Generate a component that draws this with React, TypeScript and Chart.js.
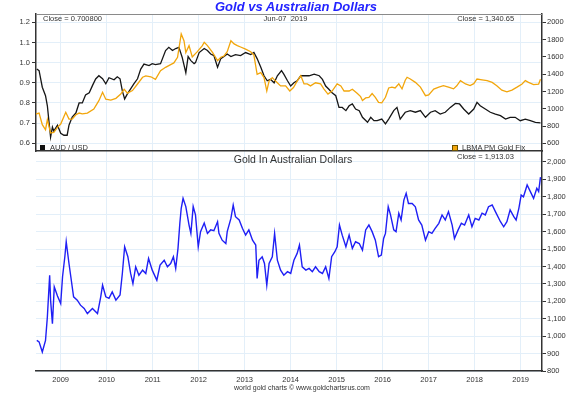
import React, { useEffect, useRef } from "react";
import { Chart, registerables } from "chart.js";

Chart.register(...registerables);

const FONT = "'Liberation Sans', Arial, Helvetica, sans-serif";
Chart.defaults.font.family = FONT;

// ---- tick labels ----
const years = [2009, 2010, 2011, 2012, 2013, 2014, 2015, 2016, 2017, 2018, 2019];
const audTicks = [0.6, 0.7, 0.8, 0.9, 1.0, 1.1, 1.2];
const goldUsdTicks = [600, 800, 1000, 1200, 1400, 1600, 1800, 2000];
const goldAudTicks = [800, 900, 1000, 1100, 1200, 1300, 1400, 1500, 1600, 1700, 1800, 1900, 2000];

// ---- series (decimal year, value) ----
const audUsd: [number, number][] = [
  [2008.48, 0.968], [2008.53, 0.96], [2008.6, 0.878], [2008.67, 0.836], [2008.71, 0.786], [2008.75, 0.696],
  [2008.78, 0.63], [2008.82, 0.68], [2008.85, 0.66], [2008.93, 0.69], [2009.0, 0.65], [2009.07, 0.64],
  [2009.14, 0.64], [2009.18, 0.69], [2009.25, 0.73], [2009.33, 0.75], [2009.4, 0.8], [2009.47, 0.8],
  [2009.54, 0.84], [2009.62, 0.85], [2009.69, 0.886], [2009.76, 0.919], [2009.83, 0.935], [2009.91, 0.92],
  [2009.98, 0.895], [2010.05, 0.925], [2010.16, 0.915], [2010.23, 0.93], [2010.29, 0.92], [2010.34, 0.86],
  [2010.39, 0.82], [2010.45, 0.845], [2010.52, 0.87], [2010.59, 0.895], [2010.67, 0.92], [2010.74, 0.968],
  [2010.81, 0.993], [2010.92, 0.985], [2010.99, 0.995], [2011.06, 0.99], [2011.17, 0.995], [2011.28, 1.06],
  [2011.35, 1.076], [2011.43, 1.06], [2011.5, 1.07], [2011.57, 1.076], [2011.64, 1.027], [2011.72, 0.95],
  [2011.77, 1.03], [2011.83, 1.01], [2011.9, 0.995], [2011.93, 1.0], [2012.01, 1.05], [2012.12, 1.07],
  [2012.19, 1.06], [2012.26, 1.043], [2012.33, 1.035], [2012.41, 0.977], [2012.48, 1.02], [2012.55, 1.03],
  [2012.62, 1.043], [2012.7, 1.03], [2012.8, 1.04], [2012.91, 1.035], [2013.02, 1.05], [2013.13, 1.04],
  [2013.2, 1.051], [2013.27, 1.02], [2013.35, 0.977], [2013.42, 0.935], [2013.49, 0.91], [2013.56, 0.917],
  [2013.64, 0.9], [2013.71, 0.935], [2013.8, 0.96], [2013.85, 0.943], [2013.93, 0.91], [2014.0, 0.884],
  [2014.07, 0.9], [2014.14, 0.91], [2014.22, 0.935], [2014.29, 0.935], [2014.4, 0.935], [2014.51, 0.943],
  [2014.62, 0.935], [2014.69, 0.917], [2014.76, 0.884], [2014.83, 0.868], [2014.9, 0.85], [2014.98, 0.836],
  [2015.05, 0.778], [2015.12, 0.778], [2015.2, 0.762], [2015.27, 0.786], [2015.34, 0.795], [2015.41, 0.77],
  [2015.49, 0.762], [2015.56, 0.729], [2015.67, 0.704], [2015.74, 0.729], [2015.81, 0.712], [2015.88, 0.712],
  [2015.98, 0.72], [2016.06, 0.696], [2016.13, 0.72], [2016.24, 0.762], [2016.31, 0.778], [2016.38, 0.72],
  [2016.49, 0.754], [2016.6, 0.762], [2016.71, 0.754], [2016.82, 0.762], [2016.93, 0.729], [2017.04, 0.754],
  [2017.14, 0.762], [2017.25, 0.745], [2017.36, 0.754], [2017.47, 0.778], [2017.58, 0.798], [2017.67, 0.795],
  [2017.76, 0.77], [2017.87, 0.745], [2017.98, 0.77], [2018.05, 0.803], [2018.12, 0.786], [2018.23, 0.77],
  [2018.34, 0.754], [2018.45, 0.745], [2018.56, 0.737], [2018.67, 0.72], [2018.77, 0.729], [2018.88, 0.729],
  [2018.99, 0.712], [2019.1, 0.72], [2019.21, 0.712], [2019.32, 0.704], [2019.43, 0.7008],
];

const goldUsd: [number, number][] = [
  [2008.46, 939], [2008.53, 950], [2008.6, 815], [2008.67, 757], [2008.71, 873], [2008.78, 719],
  [2008.85, 727], [2008.93, 785], [2009.0, 823], [2009.11, 959], [2009.18, 881], [2009.25, 880],
  [2009.33, 930], [2009.4, 950], [2009.47, 940], [2009.58, 950], [2009.72, 997], [2009.83, 1093],
  [2009.91, 1190], [2009.98, 1110], [2010.09, 1100], [2010.2, 1120], [2010.3, 1167], [2010.38, 1225],
  [2010.45, 1180], [2010.56, 1210], [2010.67, 1286], [2010.78, 1364], [2010.85, 1380], [2010.96, 1370],
  [2011.06, 1340], [2011.17, 1440], [2011.28, 1479], [2011.39, 1510], [2011.46, 1530], [2011.54, 1595],
  [2011.62, 1865], [2011.68, 1787], [2011.72, 1650], [2011.79, 1730], [2011.86, 1600], [2011.97, 1660],
  [2012.08, 1730], [2012.12, 1769], [2012.19, 1730], [2012.3, 1653], [2012.41, 1556], [2012.48, 1596],
  [2012.55, 1610], [2012.62, 1660], [2012.7, 1787], [2012.77, 1750], [2012.84, 1730], [2012.91, 1714],
  [2013.02, 1690], [2013.13, 1660], [2013.2, 1620], [2013.27, 1398], [2013.35, 1417], [2013.42, 1360],
  [2013.48, 1205], [2013.53, 1320], [2013.6, 1360], [2013.67, 1320], [2013.78, 1264], [2013.89, 1264],
  [2013.98, 1205], [2014.06, 1245], [2014.14, 1320], [2014.22, 1382], [2014.29, 1287], [2014.36, 1287],
  [2014.43, 1264], [2014.54, 1300], [2014.65, 1287], [2014.72, 1230], [2014.81, 1170], [2014.9, 1205],
  [2015.01, 1287], [2015.09, 1264], [2015.16, 1205], [2015.27, 1205], [2015.34, 1225], [2015.45, 1175],
  [2015.52, 1140], [2015.56, 1095], [2015.63, 1125], [2015.7, 1130], [2015.77, 1175], [2015.84, 1132],
  [2015.91, 1074], [2015.98, 1068], [2016.06, 1132], [2016.13, 1240], [2016.2, 1250], [2016.27, 1240],
  [2016.35, 1287], [2016.42, 1230], [2016.49, 1330], [2016.53, 1364], [2016.6, 1344], [2016.71, 1305],
  [2016.82, 1250], [2016.93, 1151], [2017.0, 1160], [2017.11, 1228], [2017.22, 1250], [2017.32, 1267],
  [2017.43, 1250], [2017.54, 1230], [2017.61, 1265], [2017.69, 1325], [2017.8, 1287], [2017.9, 1267],
  [2017.98, 1290], [2018.05, 1344], [2018.16, 1335], [2018.27, 1325], [2018.38, 1305], [2018.48, 1267],
  [2018.59, 1215], [2018.7, 1195], [2018.81, 1215], [2018.92, 1250], [2019.03, 1287], [2019.1, 1325],
  [2019.17, 1305], [2019.28, 1280], [2019.39, 1285], [2019.43, 1340.65],
];

const goldAud: [number, number][] = [
  [2008.48, 976], [2008.53, 967], [2008.6, 909], [2008.67, 976], [2008.71, 1110], [2008.76, 1350],
  [2008.78, 1207], [2008.82, 1072], [2008.86, 1283], [2008.93, 1230], [2009.0, 1187], [2009.04, 1341],
  [2009.09, 1456], [2009.12, 1542], [2009.18, 1417], [2009.22, 1341], [2009.28, 1226], [2009.36, 1207],
  [2009.43, 1178], [2009.51, 1159], [2009.58, 1130], [2009.69, 1159], [2009.8, 1130], [2009.87, 1226],
  [2009.91, 1293], [2009.98, 1226], [2010.05, 1217], [2010.12, 1254], [2010.2, 1207], [2010.29, 1236],
  [2010.34, 1360], [2010.39, 1513], [2010.46, 1456], [2010.52, 1360], [2010.57, 1302], [2010.63, 1398],
  [2010.7, 1350], [2010.78, 1379], [2010.85, 1360], [2010.91, 1446], [2010.99, 1379], [2011.09, 1321],
  [2011.16, 1408], [2011.25, 1436], [2011.32, 1398], [2011.39, 1417], [2011.45, 1456], [2011.5, 1389],
  [2011.55, 1504], [2011.59, 1648], [2011.62, 1734], [2011.66, 1791], [2011.72, 1744], [2011.79, 1638],
  [2011.83, 1590], [2011.88, 1744], [2011.93, 1696], [2011.99, 1513], [2012.04, 1600], [2012.12, 1650],
  [2012.19, 1590], [2012.26, 1610], [2012.33, 1605], [2012.41, 1657], [2012.44, 1590], [2012.51, 1551],
  [2012.59, 1532], [2012.62, 1600], [2012.7, 1676], [2012.75, 1753], [2012.8, 1686], [2012.88, 1667],
  [2012.95, 1619], [2013.02, 1580], [2013.09, 1610], [2013.17, 1551], [2013.24, 1523], [2013.27, 1331],
  [2013.31, 1436], [2013.38, 1456], [2013.43, 1417], [2013.48, 1293], [2013.53, 1417], [2013.6, 1456],
  [2013.65, 1590], [2013.71, 1436], [2013.78, 1379], [2013.85, 1350], [2013.93, 1370], [2014.0, 1360],
  [2014.07, 1436], [2014.14, 1475], [2014.19, 1523], [2014.25, 1398], [2014.33, 1379], [2014.4, 1389],
  [2014.47, 1370], [2014.54, 1398], [2014.62, 1370], [2014.69, 1360], [2014.76, 1398], [2014.83, 1331],
  [2014.89, 1456], [2014.96, 1485], [2015.01, 1513], [2015.06, 1638], [2015.12, 1580], [2015.2, 1513],
  [2015.27, 1580], [2015.34, 1504], [2015.41, 1542], [2015.49, 1532], [2015.56, 1494], [2015.63, 1610],
  [2015.7, 1638], [2015.77, 1600], [2015.84, 1551], [2015.91, 1456], [2015.97, 1465], [2016.02, 1561],
  [2016.06, 1590], [2016.12, 1743], [2016.17, 1696], [2016.24, 1610], [2016.29, 1600], [2016.35, 1706],
  [2016.4, 1667], [2016.46, 1781], [2016.51, 1820], [2016.56, 1762], [2016.64, 1762], [2016.71, 1743],
  [2016.78, 1667], [2016.85, 1638], [2016.93, 1551], [2017.0, 1600], [2017.07, 1590], [2017.14, 1619],
  [2017.22, 1648], [2017.29, 1696], [2017.36, 1667], [2017.43, 1715], [2017.51, 1638], [2017.56, 1561],
  [2017.64, 1610], [2017.71, 1648], [2017.78, 1638], [2017.87, 1696], [2017.94, 1628], [2018.01, 1676],
  [2018.09, 1667], [2018.16, 1706], [2018.23, 1696], [2018.3, 1743], [2018.38, 1753], [2018.45, 1715],
  [2018.56, 1657], [2018.63, 1628], [2018.7, 1657], [2018.77, 1725], [2018.85, 1686], [2018.9, 1667],
  [2018.96, 1734], [2019.01, 1810], [2019.06, 1800], [2019.14, 1868], [2019.21, 1830], [2019.28, 1791],
  [2019.35, 1849], [2019.39, 1830], [2019.43, 1913.03],
];

// ---- scale ranges ----
const X_MIN = 2008.463;
const X_MAX = 2019.463;
const AUD_MIN = 0.5618;
const AUD_MAX = 1.2412;
const GUSD_MIN = 511;
const GUSD_MAX = 2096;
const GAUD_MIN = 800;
const GAUD_MAX = 2063;

const GRID = "#e3eff9";
const AXIS = "#333333";
const TICK_FONT = { size: 7.5, family: FONT };

const toXY = (arr: [number, number][]) => arr.map(([x, y]) => ({ x, y }));

const topFrame = {
  id: "topFrame",
  afterDraw(chart: any) {
    const { ctx, chartArea: a } = chart;
    ctx.save();
    ctx.strokeStyle = "#8a8a8a";
    ctx.lineWidth = 1;
    ctx.beginPath();
    ctx.moveTo(a.left, a.top + 0.5);
    ctx.lineTo(a.right, a.top + 0.5);
    ctx.stroke();
    ctx.restore();
  },
};

function Txt(props: {
  x: number;
  y: number;
  size: number;
  align?: "left" | "center";
  color?: string;
  style?: React.CSSProperties;
  children: React.ReactNode;
}) {
  const { x, y, size, align = "left", color = "#333", style, children } = props;
  return (
    <div
      style={{
        position: "absolute",
        left: x,
        top: y - size * 0.6,
        fontSize: size,
        lineHeight: `${size * 1.2}px`,
        color,
        whiteSpace: "pre",
        transform: align === "center" ? "translateX(-50%)" : undefined,
        fontFamily: FONT,
        ...style,
      }}
    >
      {children}
    </div>
  );
}

export default function App() {
  const topRef = useRef<HTMLCanvasElement>(null);
  const botRef = useRef<HTMLCanvasElement>(null);

  useEffect(() => {
    const top = new Chart(topRef.current as HTMLCanvasElement, {
      type: "line",
      data: {
        datasets: [
          {
            label: "LBMA PM Gold Fix",
            data: toXY(goldUsd),
            yAxisID: "yGold",
            borderColor: "#f2a60c",
            borderWidth: 1.3,
            pointRadius: 0,
            tension: 0,
          },
          {
            label: "AUD / USD",
            data: toXY(audUsd),
            yAxisID: "yAud",
            borderColor: "#161616",
            borderWidth: 1.3,
            pointRadius: 0,
            tension: 0,
          },
        ],
      },
      options: {
        responsive: false,
        animation: false,
        devicePixelRatio: 1,
        layout: { padding: { top: 14, bottom: 244, left: 0, right: 0 } },
        plugins: { legend: { display: false }, tooltip: { enabled: false }, title: { display: false } },
        scales: {
          x: {
            type: "linear",
            min: X_MIN,
            max: X_MAX,
            afterBuildTicks: (s: any) => {
              s.ticks = years.map((v) => ({ value: v }));
            },
            afterFit: (s: any) => {
              s.height = 0;
            },
            ticks: { display: false },
            grid: { color: GRID, drawTicks: false },
            border: { display: true, color: AXIS, width: 1.5 },
          },
          yAud: {
            type: "linear",
            position: "left",
            min: AUD_MIN,
            max: AUD_MAX,
            afterBuildTicks: (s: any) => {
              s.ticks = audTicks.map((v) => ({ value: v }));
            },
            afterFit: (s: any) => {
              s.width = 36;
            },
            ticks: { font: TICK_FONT, color: AXIS, padding: 2, callback: (v: any) => Number(v).toFixed(1) },
            grid: { color: GRID, tickColor: AXIS, tickLength: 4 },
            border: { color: AXIS, width: 1.5 },
          },
          yGold: {
            type: "linear",
            position: "right",
            min: GUSD_MIN,
            max: GUSD_MAX,
            afterBuildTicks: (s: any) => {
              s.ticks = goldUsdTicks.map((v) => ({ value: v }));
            },
            afterFit: (s: any) => {
              s.width = 38;
            },
            ticks: { font: TICK_FONT, color: AXIS, padding: 1, callback: (v: any) => String(v) },
            grid: { drawOnChartArea: false, color: GRID, tickColor: AXIS, tickLength: 4 },
            border: { color: AXIS, width: 1.5 },
          },
        },
      },
      plugins: [topFrame],
    } as any);

    const bot = new Chart(botRef.current as HTMLCanvasElement, {
      type: "line",
      data: {
        datasets: [
          {
            label: "Gold In Australian Dollars",
            data: toXY(goldAud),
            yAxisID: "y",
            borderColor: "#1f1ff5",
            borderWidth: 1.4,
            pointRadius: 0,
            tension: 0,
          },
        ],
      },
      options: {
        responsive: false,
        animation: false,
        devicePixelRatio: 1,
        layout: { padding: { top: 151, bottom: 0, left: 36, right: 0 } },
        plugins: { legend: { display: false }, tooltip: { enabled: false }, title: { display: false } },
        scales: {
          x: {
            type: "linear",
            position: "bottom",
            min: X_MIN,
            max: X_MAX,
            afterBuildTicks: (s: any) => {
              s.ticks = years.map((v) => ({ value: v }));
            },
            afterFit: (s: any) => {
              s.height = 24;
            },
            ticks: {
              font: TICK_FONT,
              color: AXIS,
              padding: 4,
              maxRotation: 0,
              autoSkip: false,
              callback: (v: any) => String(v),
            },
            grid: { color: GRID, drawTicks: false },
            border: { color: AXIS, width: 1.5 },
          },
          y: {
            type: "linear",
            position: "right",
            min: GAUD_MIN,
            max: GAUD_MAX,
            afterBuildTicks: (s: any) => {
              s.ticks = goldAudTicks.map((v) => ({ value: v }));
            },
            afterFit: (s: any) => {
              s.width = 38;
            },
            ticks: {
              font: TICK_FONT,
              color: AXIS,
              padding: 1,
              callback: (v: any) => Number(v).toLocaleString("en-US"),
            },
            grid: { color: GRID, tickColor: AXIS, tickLength: 4 },
            border: { color: AXIS, width: 1.5 },
          },
        },
      },
    } as any);

    return () => {
      top.destroy();
      bot.destroy();
    };
  }, []);

  return (
    <div
      style={{
        position: "absolute",
        left: 0,
        top: 0,
        width: 580,
        height: 395,
        background: "#ffffff",
        overflow: "hidden",
        fontFamily: FONT,
      }}
    >
      <canvas ref={botRef} width={580} height={395} style={{ position: "absolute", left: 0, top: 0 }} />
      <canvas ref={topRef} width={580} height={395} style={{ position: "absolute", left: 0, top: 0 }} />

      <Txt x={296} y={7} size={13} align="center" color="#2323ff" style={{ fontWeight: "bold", fontStyle: "italic" }}>
        Gold vs Australian Dollars
      </Txt>

      <Txt x={43} y={18.7} size={7.5}>Close = 0.700800</Txt>
      <Txt x={285.5} y={18.7} size={7.5} align="center">{"Jun-07  2019"}</Txt>
      <Txt x={485.7} y={18.7} size={7.5} align="center">Close = 1,340.65</Txt>

      <div style={{ position: "absolute", left: 40, top: 145, width: 5, height: 5, background: "#111" }} />
      <Txt x={50} y={147.5} size={7.5}>AUD / USD</Txt>
      <div
        style={{
          position: "absolute",
          left: 452,
          top: 145,
          width: 4,
          height: 4,
          background: "#f2a60c",
          border: "0.8px solid #6a5000",
        }}
      />
      <Txt x={462} y={147.5} size={7.5}>LBMA PM Gold Fix</Txt>

      <Txt x={293} y={159} size={10.5} align="center">Gold In Australian Dollars</Txt>
      <Txt x={485.5} y={156.7} size={7.5} align="center">Close = 1,913.03</Txt>

      <Txt x={302} y={388} size={7} align="center">world gold charts © www.goldchartsrus.com</Txt>
    </div>
  );
}
